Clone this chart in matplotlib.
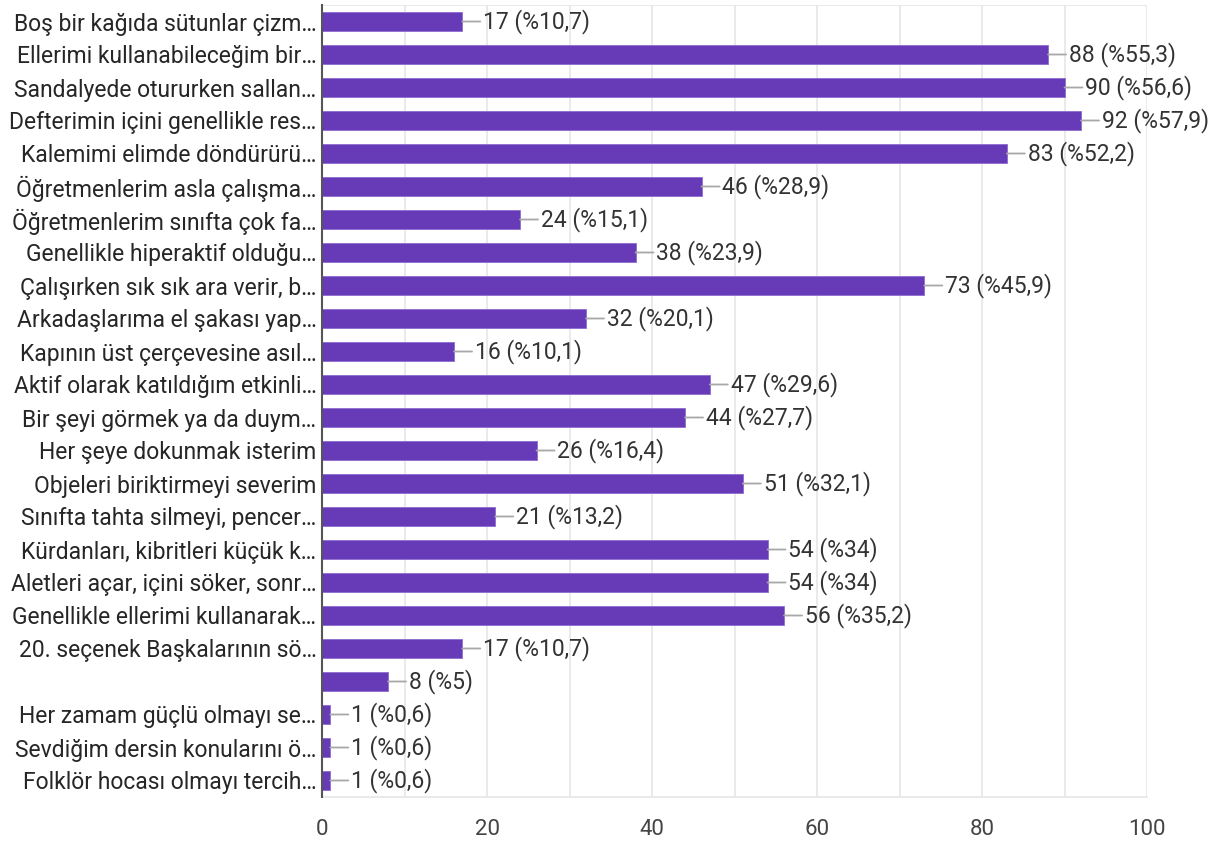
import matplotlib
matplotlib.use("Agg")
import matplotlib.pyplot as plt
from matplotlib.ticker import MultipleLocator

plt.rcParams['font.family'] = ['Roboto', 'DejaVu Sans']

categories = [
    "Boş bir kağıda sütunlar çizm…",
    "Ellerimi kullanabileceğim bir…",
    "Sandalyede otururken sallan…",
    "Defterimin içini genellikle res…",
    "Kalemimi elimde döndürürü…",
    "Öğretmenlerim asla çalışma…",
    "Öğretmenlerim sınıfta çok fa…",
    "Genellikle hiperaktif olduğu…",
    "Çalışırken sık sık ara verir, b…",
    "Arkadaşlarıma el şakası yap…",
    "Kapının üst çerçevesine asıl…",
    "Aktif olarak katıldığım etkinli…",
    "Bir şeyi görmek ya da duym…",
    "Her şeye dokunmak isterim",
    "Objeleri biriktirmeyi severim",
    "Sınıfta tahta silmeyi, pencer…",
    "Kürdanları, kibritleri küçük k…",
    "Aletleri açar, içini söker, sonr…",
    "Genellikle ellerimi kullanarak…",
    "20. seçenek Başkalarının sö…",
    "",
    "Her zamam güçlü olmayı se…",
    "Sevdiğim dersin konularını ö…",
    "Folklör hocası olmayı tercih…",
]
counts = [17, 88, 90, 92, 83, 46, 24, 38, 73, 32, 16, 47, 44, 26, 51, 21, 54, 54, 56, 17, 8, 1, 1, 1]
percents = ["10,7", "55,3", "56,6", "57,9", "52,2", "28,9", "15,1", "23,9", "45,9", "20,1",
            "10,1", "29,6", "27,7", "16,4", "32,1", "13,2", "34", "34", "35,2", "10,7",
            "5", "0,6", "0,6", "0,6"]
x_ticks = [0, 20, 40, 60, 80, 100]

fig = plt.figure(figsize=(12.22, 8.41), dpi=100)
ax = fig.add_axes([322/1222, 1-797/841, (1147-322)/1222, 792/841])

ypos = list(range(len(categories)))
ax.barh(ypos, counts, height=0.6, color="#673AB7", edgecolor="#8e6bd0", linewidth=0.6, zorder=3)

for y, c, p in zip(ypos, counts, percents):
    ax.annotate(f"{c} (%{p})", xy=(c, y), xytext=(15, 0), textcoords="offset points",
                va="center", ha="left", fontsize=16.5, color="#333333",
                arrowprops=dict(arrowstyle="-", color="#a8a8a8", lw=1.3, shrinkA=0, shrinkB=0),
                zorder=4)

ax.set_xlim(0, 100)
ax.set_ylim(len(categories) - 0.5, -0.5)
ax.set_yticks(ypos)
ax.set_yticklabels(categories, fontsize=16.5, color="#262626")
ax.set_xticks(x_ticks)
ax.set_xticklabels([str(t) for t in x_ticks], fontsize=16, color="#444444")
ax.xaxis.set_minor_locator(MultipleLocator(10))
ax.grid(axis="x", which="both", color="#e6e6e6", lw=1.2, zorder=0)
ax.tick_params(axis="both", which="both", length=0)
ax.tick_params(axis="x", pad=16)
ax.tick_params(axis="y", pad=4)
for s in ["top", "right"]:
    ax.spines[s].set_visible(False)
ax.spines["bottom"].set_color("#e6e6e6")
ax.spines["bottom"].set_linewidth(1.2)
ax.spines["left"].set_color("#555555")
ax.spines["left"].set_linewidth(1.5)
ax.spines["left"].set_zorder(5)
ax.axhline(-0.5, color="#e6e6e6", lw=1.2, zorder=0)

fig.savefig("out.png", dpi=100, facecolor="white")
